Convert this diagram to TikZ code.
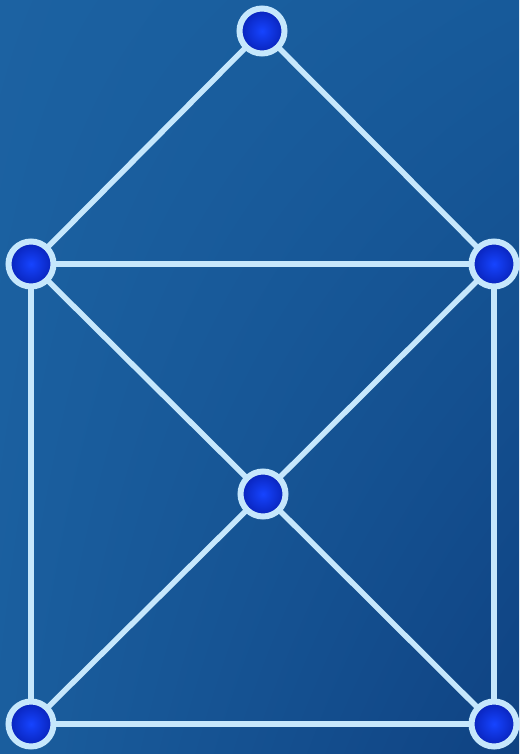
\documentclass[tikz,border=0pt]{standalone}
\usetikzlibrary{shadings}
\definecolor{bgA}{HTML}{1C62A2}
\definecolor{bgB}{HTML}{175A9A}
\definecolor{bgC}{HTML}{0F4282}
\definecolor{bgD}{HTML}{1A5E9E}
\definecolor{edgec}{HTML}{C6E7FC}
\definecolor{nodein}{HTML}{1644FF}
\definecolor{nodeout}{HTML}{0822B8}
\begin{document}
\begin{tikzpicture}[x=1pt,y=-1pt,
  vert/.style={circle,draw=edgec,line width=6pt,minimum size=45pt,inner sep=0pt,
    inner color=nodein,outer color=nodeout},
  edge/.style={draw=edgec,line width=5.5pt}]
\shade[upper left=bgA,upper right=bgB,lower right=bgC,lower left=bgD] (0,0) rectangle (519,754);
\useasboundingbox (0,0) rectangle (519,754);
\coordinate (pt) at (262,31);
\coordinate (pl) at (31,264);
\coordinate (pr) at (494,264);
\coordinate (pc) at (263,494);
\coordinate (pbl) at (31,724);
\coordinate (pbr) at (494,724);
\draw[edge] (pt) -- (pl);
\draw[edge] (pt) -- (pr);
\draw[edge] (pl) -- (pr);
\draw[edge] (pl) -- (pc);
\draw[edge] (pr) -- (pc);
\draw[edge] (pl) -- (pbl);
\draw[edge] (pr) -- (pbr);
\draw[edge] (pc) -- (pbl);
\draw[edge] (pc) -- (pbr);
\draw[edge] (pbl) -- (pbr);
\node[vert] (t) at (pt) {};
\node[vert] (l) at (pl) {};
\node[vert] (r) at (pr) {};
\node[vert] (c) at (pc) {};
\node[vert] (bl) at (pbl) {};
\node[vert] (br) at (pbr) {};
\end{tikzpicture}
\end{document}
